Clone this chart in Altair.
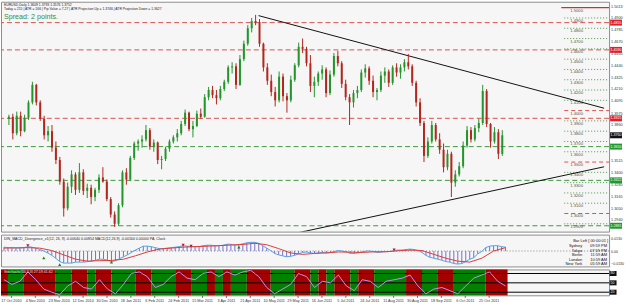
import altair as alt
import pandas as pd

# ---------------- data ----------------
bar_open = [1.3920, 1.3940, 1.3780, 1.3950, 1.3800, 1.3930, 1.4080, 1.4250, 1.4080, 1.3920,
            1.3760, 1.3800, 1.3640, 1.3520, 1.3310, 1.3050, 1.3260, 1.3380, 1.3230, 1.3400,
            1.3220, 1.3250, 1.3160, 1.3230, 1.3350, 1.3310, 1.3140, 1.2990, 1.2900, 1.3080,
            1.3400, 1.3330, 1.3540, 1.3680, 1.3700, 1.3720, 1.3810, 1.3650, 1.3690, 1.3520,
            1.3530, 1.3630, 1.3700, 1.3740, 1.3780, 1.3870, 1.3980, 1.3820, 1.3850, 1.3970,
            1.3940, 1.4130, 1.4200, 1.4150, 1.4120, 1.4210, 1.4280, 1.4420, 1.4430, 1.4250,
            1.4500, 1.4650, 1.4800, 1.4870, 1.4860, 1.4650, 1.4420, 1.4290, 1.4180, 1.4100,
            1.4330, 1.4140, 1.4100, 1.4300, 1.4440, 1.4620, 1.4600, 1.4460, 1.4240, 1.4280,
            1.4360, 1.4400, 1.4170, 1.4350, 1.4530, 1.4460, 1.4260, 1.4130, 1.4080, 1.4170,
            1.4200, 1.4370, 1.4410, 1.4290, 1.4180, 1.4200, 1.4340, 1.4380, 1.4270, 1.4420,
            1.4370, 1.4420, 1.4470, 1.4430, 1.4270, 1.4080, 1.3880, 1.3560, 1.3700, 1.3860,
            1.3720, 1.3620, 1.3450, 1.3580, 1.3300, 1.3380, 1.3460, 1.3660, 1.3810, 1.3720,
            1.3830, 1.3880, 1.4190, 1.3870, 1.3700, 1.3790, 1.3580]
bar_high = [1.3960, 1.3970, 1.3990, 1.3990, 1.3960, 1.4100, 1.4280, 1.4260, 1.4100, 1.3950,
            1.3850, 1.3860, 1.3700, 1.3550, 1.3340, 1.3300, 1.3420, 1.3400, 1.3490, 1.3430,
            1.3290, 1.3280, 1.3250, 1.3380, 1.3450, 1.3330, 1.3160, 1.3020, 1.3100, 1.3420,
            1.3440, 1.3560, 1.3700, 1.3720, 1.3760, 1.3860, 1.3830, 1.3720, 1.3700, 1.3560,
            1.3650, 1.3720, 1.3760, 1.3820, 1.3900, 1.4010, 1.3990, 1.3900, 1.4000, 1.4020,
            1.4160, 1.4230, 1.4240, 1.4200, 1.4240, 1.4300, 1.4440, 1.4470, 1.4460, 1.4540,
            1.4680, 1.4830, 1.4900, 1.4930, 1.4890, 1.4660, 1.4460, 1.4350, 1.4230, 1.4380,
            1.4360, 1.4170, 1.4340, 1.4460, 1.4660, 1.4700, 1.4620, 1.4540, 1.4330, 1.4380,
            1.4440, 1.4420, 1.4390, 1.4560, 1.4580, 1.4480, 1.4300, 1.4160, 1.4200, 1.4240,
            1.4400, 1.4450, 1.4430, 1.4340, 1.4220, 1.4380, 1.4420, 1.4400, 1.4440, 1.4460,
            1.4450, 1.4500, 1.4550, 1.4450, 1.4290, 1.4120, 1.3900, 1.3740, 1.3900, 1.3880,
            1.3780, 1.3680, 1.3620, 1.3600, 1.3420, 1.3500, 1.3700, 1.3850, 1.3840, 1.3860,
            1.3920, 1.4250, 1.4210, 1.3880, 1.3840, 1.3820, 1.3810]
bar_low = [1.3860, 1.3720, 1.3760, 1.3750, 1.3790, 1.3910, 1.4060, 1.4050, 1.3900, 1.3720,
           1.3700, 1.3600, 1.3480, 1.3280, 1.2970, 1.3030, 1.3200, 1.3180, 1.3200, 1.3180,
           1.3150, 1.3090, 1.3120, 1.3200, 1.3300, 1.3120, 1.2960, 1.2870, 1.2880, 1.3060,
           1.3280, 1.3320, 1.3520, 1.3610, 1.3640, 1.3700, 1.3620, 1.3600, 1.3480, 1.3430,
           1.3510, 1.3600, 1.3680, 1.3700, 1.3760, 1.3850, 1.3800, 1.3740, 1.3840, 1.3920,
           1.3930, 1.4100, 1.4120, 1.4060, 1.4100, 1.4190, 1.4260, 1.4360, 1.4210, 1.4240,
           1.4480, 1.4630, 1.4760, 1.4830, 1.4620, 1.4380, 1.4250, 1.4140, 1.4040, 1.4080,
           1.4090, 1.3980, 1.4080, 1.4280, 1.4420, 1.4560, 1.4430, 1.4180, 1.4130, 1.4240,
           1.4300, 1.4130, 1.4150, 1.4330, 1.4430, 1.4220, 1.4100, 1.3860, 1.4030, 1.4120,
           1.4180, 1.4320, 1.4250, 1.4130, 1.4100, 1.4180, 1.4270, 1.4230, 1.4250, 1.4330,
           1.4310, 1.4380, 1.4400, 1.4240, 1.4040, 1.3850, 1.3500, 1.3540, 1.3680, 1.3700,
           1.3580, 1.3400, 1.3420, 1.3160, 1.3260, 1.3360, 1.3440, 1.3640, 1.3690, 1.3700,
           1.3790, 1.3860, 1.3840, 1.3640, 1.3680, 1.3530, 1.3560]
bar_close = [1.3940, 1.3780, 1.3950, 1.3800, 1.3930, 1.4080, 1.4250, 1.4080, 1.3920, 1.3760,
             1.3800, 1.3640, 1.3520, 1.3310, 1.3050, 1.3260, 1.3380, 1.3230, 1.3400, 1.3220,
             1.3250, 1.3160, 1.3230, 1.3350, 1.3310, 1.3140, 1.2990, 1.2900, 1.3080, 1.3400,
             1.3330, 1.3540, 1.3680, 1.3700, 1.3720, 1.3810, 1.3650, 1.3690, 1.3520, 1.3530,
             1.3630, 1.3700, 1.3740, 1.3780, 1.3870, 1.3980, 1.3820, 1.3850, 1.3970, 1.3940,
             1.4130, 1.4200, 1.4150, 1.4120, 1.4210, 1.4280, 1.4420, 1.4430, 1.4250, 1.4500,
             1.4650, 1.4800, 1.4870, 1.4860, 1.4650, 1.4420, 1.4290, 1.4180, 1.4100, 1.4330,
             1.4140, 1.4100, 1.4300, 1.4440, 1.4620, 1.4600, 1.4460, 1.4240, 1.4280, 1.4360,
             1.4400, 1.4170, 1.4350, 1.4530, 1.4460, 1.4260, 1.4130, 1.4080, 1.4170, 1.4200,
             1.4370, 1.4410, 1.4290, 1.4180, 1.4200, 1.4340, 1.4380, 1.4270, 1.4420, 1.4370,
             1.4420, 1.4470, 1.4430, 1.4270, 1.4080, 1.3880, 1.3560, 1.3700, 1.3860, 1.3720,
             1.3620, 1.3450, 1.3580, 1.3300, 1.3380, 1.3460, 1.3660, 1.3810, 1.3720, 1.3830,
             1.3880, 1.4190, 1.3870, 1.3700, 1.3790, 1.3580, 1.3760]

# long horizontal support / resistance lines
long_level_prices = [1.4855, 1.4590, 1.3925, 1.3650, 1.3322, 1.2881]
long_level_kinds = ["res", "res", "res", "sup", "sup", "sup"]

# short round-number levels at the right
right_level_prices = [1.50, 1.49, 1.48, 1.47, 1.46, 1.45, 1.44, 1.43, 1.42, 1.41, 1.40,
                      1.39, 1.38, 1.37, 1.36, 1.35, 1.34, 1.33, 1.32, 1.31, 1.30, 1.29]
right_level_styles = ["solid", "dot", "dot", "dot", "dot", "dot", "dot", "dot", "dot", "dot", "dash",
                      "dot", "dot", "dot", "dot", "dash", "dot", "dot", "dot", "dot", "dash", "dot"]

# trend lines (bar index, price)
trend_ids = ["upper", "upper", "lower", "lower"]
trend_bars = [63.75, 152.0, 73.0, 152.0]
trend_prices = [1.4923, 1.4023, 1.2806, 1.3454]

# price axis labels (those hidden behind the price boxes are left out)
price_axis_values = [1.5013, 1.4900, 1.4785, 1.4670, 1.4555, 1.4440, 1.4325, 1.4210, 1.4095,
                     1.3975, 1.3860, 1.3515, 1.3400, 1.3285, 1.3165, 1.3050, 1.2940]

# coloured price boxes on the axis
box_prices = [1.4855, 1.4590, 1.3925, 1.3760, 1.3650, 1.3322, 1.2881]
box_kinds = ["res", "res", "res", "bid", "sup", "sup", "sup"]

# MACD
macd_hist = [0.0040, 0.0035, 0.0035, 0.0030, 0.0030, 0.0035, 0.0045, 0.0040, 0.0030, 0.0015,
             0.0000, -0.0020, -0.0045, -0.0075, -0.0110, -0.0125, -0.0125, -0.0125, -0.0115, -0.0115,
             -0.0115, -0.0110, -0.0105, -0.0095, -0.0085, -0.0085, -0.0095, -0.0110, -0.0100, -0.0080,
             -0.0060, -0.0040, -0.0015, 0.0010, 0.0030, 0.0050, 0.0050, 0.0045, 0.0035, 0.0025,
             0.0025, 0.0030, 0.0035, 0.0040, 0.0045, 0.0055, 0.0050, 0.0045, 0.0045, 0.0045,
             0.0055, 0.0060, 0.0060, 0.0055, 0.0055, 0.0060, 0.0070, 0.0070, 0.0060, 0.0065,
             0.0075, 0.0085, 0.0090, 0.0090, 0.0080, 0.0055, 0.0030, 0.0005, -0.0025, -0.0040,
             -0.0050, -0.0060, -0.0055, -0.0045, -0.0030, -0.0015, -0.0010, -0.0020, -0.0025, -0.0020,
             -0.0015, -0.0020, -0.0015, -0.0005, 0.0005, 0.0000, -0.0010, -0.0025, -0.0025, -0.0020,
             -0.0010, 0.0000, 0.0000, -0.0010, -0.0015, -0.0010, -0.0005, -0.0005, 0.0005, 0.0010,
             0.0010, 0.0015, 0.0020, 0.0015, 0.0005, -0.0015, -0.0045, -0.0065, -0.0075, -0.0085,
             -0.0095, -0.0110, -0.0115, -0.0130, -0.0135, -0.0130, -0.0110, -0.0085, -0.0070, -0.0030,
             -0.0005, 0.0035, 0.0050, 0.0055, 0.0055, 0.0045, 0.0040]
signal_bars = list(range(0, 127, 3))
signal_vals = [0.0030, 0.0033, 0.0035, 0.0030, 0.0005, -0.0040, -0.0085, -0.0105, -0.0100, -0.0098,
               -0.0085, -0.0050, -0.0010, 0.0020, 0.0030, 0.0040, 0.0045, 0.0050, 0.0055, 0.0062,
               0.0068, 0.0080, 0.0065, 0.0025, -0.0020, -0.0035, -0.0025, -0.0020, -0.0010, -0.0012,
               -0.0015, -0.0008, -0.0008, 0.0002, 0.0010, 0.0005, -0.0035, -0.0075, -0.0105, -0.0115,
               -0.0075, 0.0000, 0.0035]
bear_div_bars = [6, 45, 47, 98]
bear_div_vals = [0.0055, 0.0060, 0.0050, 0.0012]
bull_div_bars = [10, 14, 27, 59]
bull_div_vals = [-0.0070, -0.0140, -0.0115, 0.0040]
macd_axis_values = [0.0130, 0.0, -0.0130]

# oscillator panel
osc_bars = list(range(0, 127, 2))
osc_vals = [60, 45, 55, 85, 60, 30, 20, 12, 40, 55, 35, 30, 60, 30, 15, 45, 80, 85, 70, 35,
            45, 70, 85, 65, 60, 80, 85, 70, 85, 75, 85, 90, 70, 35, 15, 30, 45, 80, 70, 35,
            55, 50, 75, 40, 25, 60, 55, 35, 55, 60, 65, 75, 40, 15, 30, 35, 25, 15, 40, 65,
            75, 85, 55, 40]
osc_levels = [80, 50, 20]
band_edges = [-0.75, 1, 5, 13, 17, 21, 23, 27, 33, 37, 43, 47, 51, 53, 55, 57, 61, 67, 73, 77,
              79, 81, 83, 87, 89, 93, 101, 105, 109, 113, 121, 126.5]
band_colors = ["red", "green"] * 15 + ["red"]

# date labels
date_labels = ["17 Oct 2010", "4 Nov 2010", "23 Nov 2010", "12 Dec 2010", "30 Dec 2010",
               "18 Jan 2011", "6 Feb 2011", "24 Feb 2011", "15 Mar 2011", "3 Apr 2011",
               "21 Apr 2011", "10 May 2011", "29 May 2011", "16 Jun 2011", "5 Jul 2011",
               "24 Jul 2011", "11 Aug 2011", "30 Aug 2011", "18 Sep 2011", "6 Oct 2011",
               "25 Oct 2011"]
date_ticks = [1.75 + 6 * k for k in range(len(date_labels))]

header_1 = "EURUSD,Daily  1.3609 1.3793 1.3576 1.3752"
header_2 = "Today = 215  |  ATR = 166  |  Pip Value = 7.27  |  ATR Projection Up = 1.3746  |  ATR Projection Down = 1.3627"
spread_text = "Spread: 2 points."
macd_title = "DIN_MACD_Divergence_v1(12, 26, 9) -0.00640 0.00854   MACD(12,26,9) -0.00164 0.00000   PA, Clock"
osc_title = "Stochastic(14,3,3) 27.19 41.62"
clock_head = "Bar Left [ 00:00:01 ]"
clock_cities = ["Sydney", "Tokyo", "Berlin", "London", "New York"]
clock_times = ["09:59 PM", "07:59 PM", "11:59 AM", "10:59 AM", "05:59 AM"]

# ---------------- styling ----------------
FONT = "Liberation Sans"
W = 611
H_MAIN = 231
H_MACD = 32
H_OSC = 26
UP = "#23952a"
DOWN = "#b3261e"
RES = "#d9534f"
SUP = "#3d9a3d"

n = len(bar_close)
candles = pd.DataFrame({"bar": list(range(n)), "open": bar_open, "high": bar_high,
                        "low": bar_low, "close": bar_close})
candles["dir"] = ["up" if c >= o else "down" for o, c in zip(bar_open, bar_close)]

xscale = alt.Scale(domain=[-0.75, 152.0], nice=False, zero=False)


def X(field="bar", axis=None):
    return alt.X(f"{field}:Q", scale=xscale, axis=axis)


price_scale = alt.Scale(domain=[1.2824, 1.5058], nice=False, zero=False)
price_axis = alt.Axis(orient="right", values=price_axis_values, format=".4f", title=None,
                      grid=False, ticks=False, domain=False, labelFontSize=3.8, labelPadding=1.5,
                      labelColor="#333333", labelFont=FONT, labelOverlap=False,
                      labelBound=False, labelFlush=False)


def YP(field):
    return alt.Y(f"{field}:Q", scale=price_scale, axis=price_axis)


def note(text, x, y, size, color="#222222", align="left", baseline="middle", line_height=None):
    kw = dict(text=text, fontSize=size, color=color, align=align, baseline=baseline, font=FONT)
    if line_height:
        kw["lineHeight"] = line_height
    return alt.Chart(alt.Data(values=[{}])).mark_text(**kw).encode(x=alt.value(x), y=alt.value(y))


# ---- main panel ----
long_df = pd.DataFrame({"price": long_level_prices, "kind": long_level_kinds})
long_res = alt.Chart(long_df).transform_filter("datum.kind == 'res'").mark_rule(
    strokeDash=[5, 3], strokeWidth=1, color=RES).encode(y=YP("price"))
long_sup = alt.Chart(long_df).transform_filter("datum.kind == 'sup'").mark_rule(
    strokeDash=[5, 3], strokeWidth=1, color=SUP).encode(y=YP("price"))

right_df = pd.DataFrame({"price": right_level_prices, "style": right_level_styles,
                         "label": [f"{p:.4f}" for p in right_level_prices]})
r_dot = alt.Chart(right_df).transform_filter("datum.style == 'dot'").mark_rule(
    strokeDash=[1, 2], strokeWidth=1, color="#4a9a4a").encode(
    x=alt.value(566), x2=alt.value(W), y=YP("price"))
r_dash = alt.Chart(right_df).transform_filter("datum.style == 'dash'").mark_rule(
    strokeDash=[4, 3], strokeWidth=1, color=RES).encode(
    x=alt.value(566), x2=alt.value(W), y=YP("price"))
r_solid = alt.Chart(right_df).transform_filter("datum.style == 'solid'").mark_rule(
    strokeWidth=1, color="#c00000").encode(
    x=alt.value(563), x2=alt.value(W), y=YP("price"))
r_text = alt.Chart(right_df).mark_text(align="left", baseline="top", dy=1, fontSize=4.2,
                                      color="#555555", font=FONT).encode(
    x=alt.value(572), y=YP("price"), text="label:N")

trend_df = pd.DataFrame({"line": trend_ids, "bar": trend_bars, "price": trend_prices})
trend = alt.Chart(trend_df).mark_line(color="#111111", strokeWidth=1, clip=True).encode(
    x=X(), y=YP("price"), detail="line:N")

wick_up = alt.Chart(candles).transform_filter("datum.dir == 'up'").mark_rule(
    strokeWidth=1, color=UP).encode(x=X(), y=YP("low"), y2="high")
wick_dn = alt.Chart(candles).transform_filter("datum.dir == 'down'").mark_rule(
    strokeWidth=1, color=DOWN).encode(x=X(), y=YP("low"), y2="high")
body_up = alt.Chart(candles).transform_filter("datum.dir == 'up'").mark_bar(
    size=2, color=UP).encode(x=X(), y=YP("open"), y2="close")
body_dn = alt.Chart(candles).transform_filter("datum.dir == 'down'").mark_bar(
    size=2, color=DOWN).encode(x=X(), y=YP("open"), y2="close")

box_df = pd.DataFrame({"price": box_prices, "kind": box_kinds,
                       "label": [f"{p:.4f}" for p in box_prices]})
box_layers = []
for kind, col in [("res", "#e0202a"), ("sup", "#1f9a2a"), ("bid", "#111111")]:
    box_layers.append(
        alt.Chart(box_df).transform_filter(f"datum.kind == '{kind}'").mark_tick(
            orient="horizontal", size=12, thickness=6, color=col, opacity=1).encode(
            x=alt.value(W + 7), y=YP("price")))
box_text = alt.Chart(box_df).mark_text(align="left", baseline="middle", fontSize=3.6,
                                      color="white", font=FONT).encode(
    x=alt.value(W + 1.5), y=YP("price"), text="label:N")

main = alt.layer(
    long_res, long_sup, r_dot, r_dash, r_solid, r_text, trend,
    wick_up, wick_dn, body_up, body_dn, *box_layers, box_text,
    note(header_1, 3, 3, 3.4, "#222222"),
    note(header_2, 3, 7.5, 3.4, "#222222"),
    note(spread_text, 3, 15.5, 7.2, "#3c8c3c"),
).properties(width=W, height=H_MAIN)

# ---- MACD panel ----
macd_scale = alt.Scale(domain=[-0.016, 0.017], nice=False, zero=False)
macd_axis = alt.Axis(orient="right", values=macd_axis_values, title=None, grid=False,
                     ticks=False, domain=False, labelFontSize=3.6, labelPadding=1.5,
                     labelColor="#333333", labelFont=FONT, labelOverlap=False,
                     labelBound=False, labelFlush=False,
                     labelExpr="datum.value == 0 ? '0.00' : format(datum.value, '.4f')")


def YM(field):
    return alt.Y(f"{field}:Q", scale=macd_scale, axis=macd_axis)


macd_df = pd.DataFrame({"bar": list(range(n)), "hist": macd_hist})
sig_df = pd.DataFrame({"bar": signal_bars, "sig": signal_vals})
zero_df = pd.DataFrame({"zero": [0.0]})
bear_df = pd.DataFrame({"bar": bear_div_bars, "v": bear_div_vals})
bull_df = pd.DataFrame({"bar": bull_div_bars, "v": bull_div_vals})

zero_rule = alt.Chart(zero_df).mark_rule(strokeDash=[1, 2], color="#888888", strokeWidth=1).encode(
    y=YM("zero"))
hist = alt.Chart(macd_df).transform_calculate(base="0").mark_rule(
    strokeWidth=1, color="#7272cc").encode(x=X(), y=YM("hist"), y2="base:Q")
macd_line = alt.Chart(macd_df).mark_line(strokeWidth=1, color="#5aa0e6").encode(
    x=X(), y=YM("hist"))
sig_line = alt.Chart(sig_df).mark_line(strokeWidth=1, color="#e03a3a").encode(
    x=X(), y=YM("sig"))
bear_pts = alt.Chart(bear_df).mark_point(shape="triangle-down", filled=True, size=10,
                                         color="#d01010", opacity=1).encode(x=X(), y=YM("v"))
bull_pts = alt.Chart(bull_df).mark_point(shape="triangle-up", filled=True, size=10,
                                         color="#108a10", opacity=1).encode(x=X(), y=YM("v"))

macd = alt.layer(
    zero_rule, hist, macd_line, sig_line, bear_pts, bull_pts,
    note(macd_title, 3, 4.5, 3.6, "#222222"),
    note(clock_head, 610, 6.8, 4.0, "#111111", align="right"),
    note(clock_cities, 584, 9.6, 4.0, "#111111", align="right", baseline="top", line_height=4.5),
    note(clock_times, 609, 9.6, 4.0, "#111111", align="right", baseline="top", line_height=4.5),
).properties(width=W, height=H_MACD)

# ---- oscillator panel ----
osc_scale = alt.Scale(domain=[10, 93], nice=False, zero=False)
date_expr = "[" + ",".join(f"'{d}'" for d in date_labels) + "][round((datum.value - 1.75) / 6)]"
date_axis = alt.Axis(orient="bottom", values=date_ticks, labelExpr=date_expr, title=None,
                     grid=False, domain=False, tickSize=2, tickColor="#666666",
                     labelFontSize=3.8, labelPadding=1, labelColor="#333333", labelFont=FONT,
                     labelOverlap=False, labelBound=False, labelFlush=False)


def XD(field="bar"):
    return alt.X(f"{field}:Q", scale=xscale, axis=date_axis)


def YO(field):
    return alt.Y(f"{field}:Q", scale=osc_scale, axis=None)


band_df = pd.DataFrame({"start": band_edges[:-1], "end": band_edges[1:], "col": band_colors})
bands = alt.Chart(band_df).mark_rect(opacity=1).encode(
    x=XD("start"), x2="end", y=alt.value(0), y2=alt.value(H_OSC),
    color=alt.Color("col:N", scale=alt.Scale(domain=["red", "green"],
                                             range=["#a40000", "#008200"]), legend=None))
lvl_df = pd.DataFrame({"lvl": osc_levels, "label": [str(v) for v in osc_levels]})
lvl_rules = alt.Chart(lvl_df).mark_rule(color="#000000", strokeWidth=1).encode(y=YO("lvl"))
osc_df = pd.DataFrame({"bar": osc_bars, "osc": osc_vals})
osc_line = alt.Chart(osc_df).mark_line(color="#c58cf0", strokeWidth=1, clip=True).encode(
    x=XD(), y=YO("osc"))
lvl_boxes = alt.Chart(lvl_df).mark_tick(orient="horizontal", size=7, thickness=5,
                                        color="#111111", opacity=1).encode(
    x=alt.value(W + 4), y=YO("lvl"))
lvl_text = alt.Chart(lvl_df).mark_text(align="left", baseline="middle", fontSize=3.5,
                                       color="white", font=FONT).encode(
    x=alt.value(W + 1.5), y=YO("lvl"), text="label:N")

osc = alt.layer(
    bands, lvl_rules, osc_line, lvl_boxes, lvl_text,
    note(osc_title, 3, 3, 3.6, "#dddddd"),
).properties(width=W, height=H_OSC)

chart = alt.vconcat(main, macd, osc, spacing=1).properties(
    padding=0, background="#ffffff"
).configure_view(
    stroke="#8c8c8c", strokeWidth=1, fill="#f6f6f6"
).configure_text(font=FONT)

chart.save("out.html", embed_options={"renderer": "svg", "actions": False})
